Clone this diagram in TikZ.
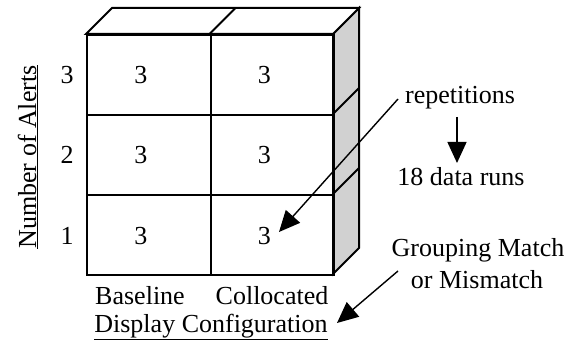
\documentclass[tikz,border=0pt]{standalone}
\usepackage{fontspec}
\setmainfont{Liberation Serif}
\usetikzlibrary{arrows.meta}
\begin{document}
\begin{tikzpicture}[x=1pt,y=-1pt,
  txt/.style={font=\fontsize{26}{30}\selectfont, inner sep=0pt},
  cell/.style={draw, line width=2pt, minimum width=123.5pt, minimum height=80pt, inner sep=0pt, anchor=north west},
  face/.style={draw, line width=2pt, line join=miter},
  pointer/.style={line width=1.4pt, -{Triangle[length=21pt,width=19pt]}}
]
\useasboundingbox (0,0) rectangle (581,344);
% side face
\filldraw[face, fill=black!18] (333,34) -- (359,8) -- (359,248) -- (333,274) -- cycle;
\draw[face] (333,114) -- (359,88);
\draw[face] (333,194) -- (359,168);
% top face
\draw[face, fill=white] (86,34) -- (112,8) -- (359,8) -- (333,34) -- cycle;
\draw[face] (209.5,34) -- (235.5,8);
% front cells
\node[cell] (c31) at (86,34) {};
\node[cell] (c32) at (209.5,34) {};
\node[cell] (c21) at (86,114) {};
\node[cell] (c22) at (209.5,114) {};
\node[cell] (c11) at (86,194) {};
\node[cell] (c12) at (209.5,194) {};
% cell values
\node[txt] (v31) at ([xshift=-8pt]c31.center) {3};
\node[txt] (v32) at ([xshift=-8pt]c32.center) {3};
\node[txt] (v21) at ([xshift=-8pt]c21.center) {3};
\node[txt] (v22) at ([xshift=-8pt]c22.center) {3};
\node[txt] (v11) at ([xshift=-8pt,yshift=-1pt]c11.center) {3};
\node[txt] (v12) at ([xshift=-8pt,yshift=-1pt]c12.center) {3};
% row labels
\node[txt] (r3) at (67,75) {3};
\node[txt] (r2) at (67,155) {2};
\node[txt] (r1) at (67,236) {1};
\node[txt, rotate=90] (ylab) at (28,157) {\underline{Number of Alerts}};
% column labels
\node[txt] (base) at (140,296) {Baseline};
\node[txt] (coll) at (272,296) {Collocated};
\node[txt] (xlab) at (211,327) {\underline{Display Configuration}};
% right texts
\node[txt] (rep) at (460,98) {repetitions};
\node[txt] (runs) at (461,177) {18 data runs};
\node[txt] (gm1) at (478,250) {Grouping Match};
\node[txt] (gm2) at (477,280) {or Mismatch};
% arrow end points
\coordinate (repstart) at (398,99);
\coordinate (tip) at (279,232);
\coordinate (downstart) at (457,117);
\coordinate (downend) at (457,163);
\coordinate (gmstart) at (398,271);
\coordinate (gmend) at (337,323);
% arrows
\draw[pointer] (repstart) -- (tip);
\draw[pointer] (downstart) -- (downend);
\draw[pointer] (gmstart) -- (gmend);
\end{tikzpicture}
\end{document}
